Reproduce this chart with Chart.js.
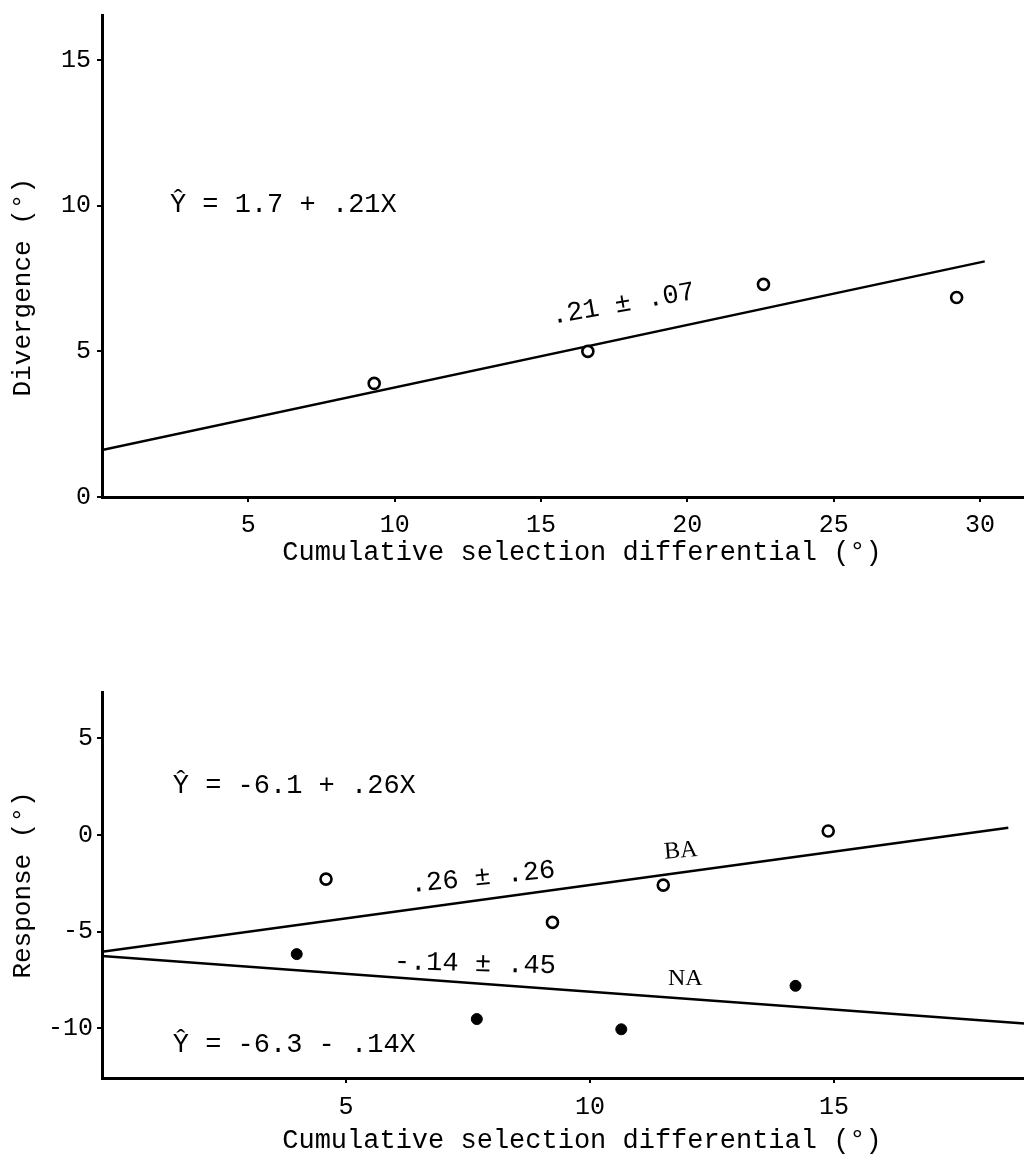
<!DOCTYPE html>
<html><head><meta charset="utf-8">
<script src="https://cdn.jsdelivr.net/npm/chart.js@4.4.1/dist/chart.umd.min.js"></script>
<style>
html,body{margin:0;padding:0;background:#fff;overflow:hidden;}
#wrap{position:relative;width:1024px;height:1158px;overflow:hidden;background:#fff;}
canvas{position:absolute;left:0;}
#c1{top:0;} #c2{top:600px;}
</style></head><body>
<div id="wrap"><canvas id="c1" width="1062" height="590"></canvas><canvas id="c2" width="1062" height="558"></canvas></div>
<script>
// ---- data ----
const topSelection = [9.3, 16.6, 22.6, 29.2];
const topDivergence = [3.9, 5.0, 7.3, 6.85];
const topFitX = [0, 30.16];
const topFitY = [1.61, 8.09];
const topXTicks = [5, 10, 15, 20, 25, 30];
const topYTicks = [0, 5, 10, 15];

const baSelection = [4.59, 9.23, 11.5, 14.88];
const baResponse = [-2.28, -4.52, -2.59, 0.21];
const naSelection = [3.99, 7.68, 10.64, 14.21];
const naResponse = [-6.16, -9.52, -10.05, -7.8];
const baFitX = [0, 18.57];
const baFitY = [-6.04, 0.38];
const naFitX = [0, 18.9];
const naFitY = [-6.26, -9.75];
const bottomXTicks = [5, 10, 15];
const bottomYTicks = [-10, -5, 0, 5];

const xTitle = 'Cumulative selection differential (°)';
const topYTitle = 'Divergence (°)';
const bottomYTitle = 'Response (°)';

// ---- helpers ----
const pts = (xs, ys) => xs.map((v, i) => ({x: v, y: ys[i]}));
const MONO = "'Liberation Mono', 'Courier New', monospace";
Chart.defaults.font.family = MONO;
Chart.defaults.color = '#000';

function notesPlugin(items) {
  return {
    id: 'notes',
    afterDatasetsDraw(chart) {
      const {ctx, scales: {x, y}} = chart;
      items.forEach(it => {
        ctx.save();
        ctx.translate(x.getPixelForValue(it.x), y.getPixelForValue(it.y));
        ctx.rotate((it.rot || 0) * Math.PI / 180);
        ctx.font = it.font;
        ctx.fillStyle = '#000';
        ctx.textAlign = it.align || 'center';
        ctx.textBaseline = 'middle';
        ctx.fillText(it.text, 0, 0);
        ctx.restore();
      });
    }
  };
}

function axis(opts) {
  return {
    type: 'linear',
    min: opts.min, max: opts.max,
    border: {display: true, color: '#000', width: 3},
    grid: {display: true, drawOnChartArea: false, drawTicks: true, tickLength: 5, color: '#000', lineWidth: 2},
    ticks: {font: {family: MONO, size: 25}, color: '#000', padding: opts.pad, autoSkip: false, maxRotation: 0},
    title: opts.title,
    afterBuildTicks: s => { s.ticks = opts.ticks.map(v => ({value: v})); },
    afterFit: s => {
      opts.fit(s);
      s.paddingTop = 0; s.paddingBottom = 0; s.paddingLeft = 0; s.paddingRight = 0;
    }
  };
}

const openPt = {pointRadius: 5.5, pointBorderWidth: 2.6, pointBackgroundColor: '#fff', pointBorderColor: '#000', showLine: false};
const fillPt = {pointRadius: 5.5, pointBorderWidth: 1, pointBackgroundColor: '#000', pointBorderColor: '#000', showLine: false};
const fitLine = {showLine: true, borderColor: '#000', borderWidth: 2.5, pointRadius: 0, fill: false};

// ---- top chart ----
new Chart(document.getElementById('c1'), {
  type: 'scatter',
  data: {datasets: [
    Object.assign({label: 'Divergence', data: pts(topSelection, topDivergence)}, openPt),
    Object.assign({label: 'Fit', data: pts(topFitX, topFitY)}, fitLine)
  ]},
  options: {
    responsive: false, animation: false, devicePixelRatio: 1,
    layout: {autoPadding: false, padding: {top: 15, left: 0, right: 0, bottom: 0}},
    plugins: {legend: {display: false}, tooltip: {enabled: false}},
    scales: {
      x: axis({min: 0, max: 32.8, ticks: topXTicks, pad: 8,
        title: {display: true, text: xTitle, font: {family: MONO, size: 27}, padding: {top: 0, bottom: 21}},
        fit: s => { s.height = 93; }}),
      y: axis({min: 0, max: 16.55, ticks: topYTicks, pad: 6,
        title: {display: true, text: topYTitle + '    ', font: {family: MONO, size: 26}, padding: {top: 8, bottom: 0}},
        fit: s => { s.width = 102; }})
    }
  },
  plugins: [notesPlugin([
    {text: 'Ŷ = 1.7 + .21X', x: 2.32, y: 10.02, align: 'left', font: '27px ' + MONO},
    {text: '.21 ± .07', x: 17.8, y: 6.62, rot: -10, font: '27px ' + MONO}
  ])]
});

// ---- bottom chart ----
new Chart(document.getElementById('c2'), {
  type: 'scatter',
  data: {datasets: [
    Object.assign({label: 'BA', data: pts(baSelection, baResponse)}, openPt),
    Object.assign({label: 'NA', data: pts(naSelection, naResponse)}, fillPt),
    Object.assign({label: 'BA fit', data: pts(baFitX, baFitY)}, fitLine),
    Object.assign({label: 'NA fit', data: pts(naFitX, naFitY)}, fitLine)
  ]},
  options: {
    responsive: false, animation: false, devicePixelRatio: 1,
    layout: {autoPadding: false, padding: {top: 92, left: 0, right: 0, bottom: 0}},
    plugins: {legend: {display: false}, tooltip: {enabled: false}},
    scales: {
      x: axis({min: 0, max: 19.67, ticks: bottomXTicks, pad: 9,
        title: {display: true, text: xTitle, font: {family: MONO, size: 27}, padding: {top: 0, bottom: 1}},
        fit: s => { s.height = 80; }}),
      y: axis({min: -12.57, max: 7.4, ticks: bottomYTicks, pad: 4,
        title: {display: true, text: bottomYTitle, font: {family: MONO, size: 26}, padding: {top: 8, bottom: 0}},
        fit: s => { s.width = 102; }})
    }
  },
  plugins: [notesPlugin([
    {text: 'Ŷ = -6.1 + .26X', x: 1.45, y: 2.53, align: 'left', font: '27px ' + MONO},
    {text: 'Ŷ = -6.3 - .14X', x: 1.45, y: -10.86, align: 'left', font: '27px ' + MONO},
    {text: '.26 ± .26', x: 7.8, y: -2.2, rot: -6, font: '27px ' + MONO},
    {text: '-.14 ± .45', x: 7.64, y: -6.67, rot: 1.5, font: '27px ' + MONO},
    {text: 'BA', x: 11.86, y: -0.83, rot: -5, font: "24px 'Liberation Serif', serif"},
    {text: 'NA', x: 11.95, y: -7.45, rot: 0, font: "24px 'Liberation Serif', serif"}
  ])]
});
</script>
</body></html>
